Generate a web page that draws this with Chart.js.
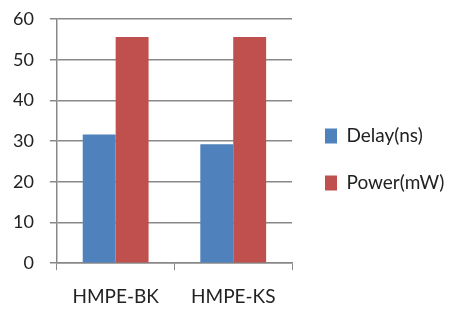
<!DOCTYPE html>
<html><head><meta charset="utf-8">
<script src="https://cdn.jsdelivr.net/npm/chart.js@4/dist/chart.umd.min.js"></script>
<style>html,body{margin:0;padding:0;background:#fff}#wrap{width:450px;height:309px}</style>
</head><body><div id="wrap"><canvas id="c" width="450" height="309"></canvas></div>
<script>
const categories = ["HMPE-BK", "HMPE-KS"];
const delayValues = [31.6, 29.2];
const powerValues = [55.6, 55.6];
const seriesNames = ["Delay(ns)", "Power(mW)"];
const yTicks = [0, 10, 20, 30, 40, 50, 60];

const FONT = "Lato, 'Open Sans', sans-serif";

// widen the legend box (Chart.js caps right-hand boxes at a quarter of the width)
const legendWidthPlugin = {
  id: 'legendWidth',
  beforeLayout(chart) {
    const lg = chart.legend;
    if (lg && !lg._wPatched) {
      const f = lg.fit;
      lg.fit = function () { f.call(this); this.width = 158; };
      const d = lg.draw;
      lg.draw = function () {
        const ctx = this.ctx;
        ctx.save();
        ctx.translate(5, -2);
        d.call(this);
        ctx.restore();
      };
      lg._wPatched = true;
    }
  }
};

new Chart(document.getElementById('c'), {
  type: 'bar',
  data: {
    labels: categories,
    datasets: [
      {label: seriesNames[0], data: delayValues, backgroundColor: '#4F81BD', barPercentage: 1, categoryPercentage: 0.56},
      {label: seriesNames[1], data: powerValues, backgroundColor: '#C0504D', barPercentage: 1, categoryPercentage: 0.56}
    ]
  },
  plugins: [legendWidthPlugin],
  options: {
    responsive: false,
    animation: false,
    devicePixelRatio: 1,
    layout: {padding: {top: 0, right: 0, left: -3, bottom: -14}},
    plugins: {
      tooltip: {enabled: false},
      legend: {
        position: 'right',
        align: 'center',
        labels: {
          font: {family: FONT, size: 19},
          color: '#222',
          boxWidth: 12,
          boxHeight: 15,
          padding: 28
        }
      }
    },
    scales: {
      x: {
        grid: {display: true, drawOnChartArea: false, drawTicks: true, tickLength: 7, color: '#888', offset: true},
        border: {display: true, color: '#888', width: 1.5},
        ticks: {font: {family: FONT, size: 19}, color: '#222', padding: 15}
      },
      y: {
        min: 0, max: 60,
        afterBuildTicks: (s) => { s.ticks = yTicks.map(v => ({value: v})); },
        afterFit: (s) => { s.paddingTop = 19; },
        grid: {color: '#888', lineWidth: 1.5, tickLength: 7},
        border: {display: true, color: '#888', width: 1.5},
        ticks: {font: {family: FONT, size: 18}, color: '#222', padding: 16}
      }
    }
  }
});
</script></body></html>
